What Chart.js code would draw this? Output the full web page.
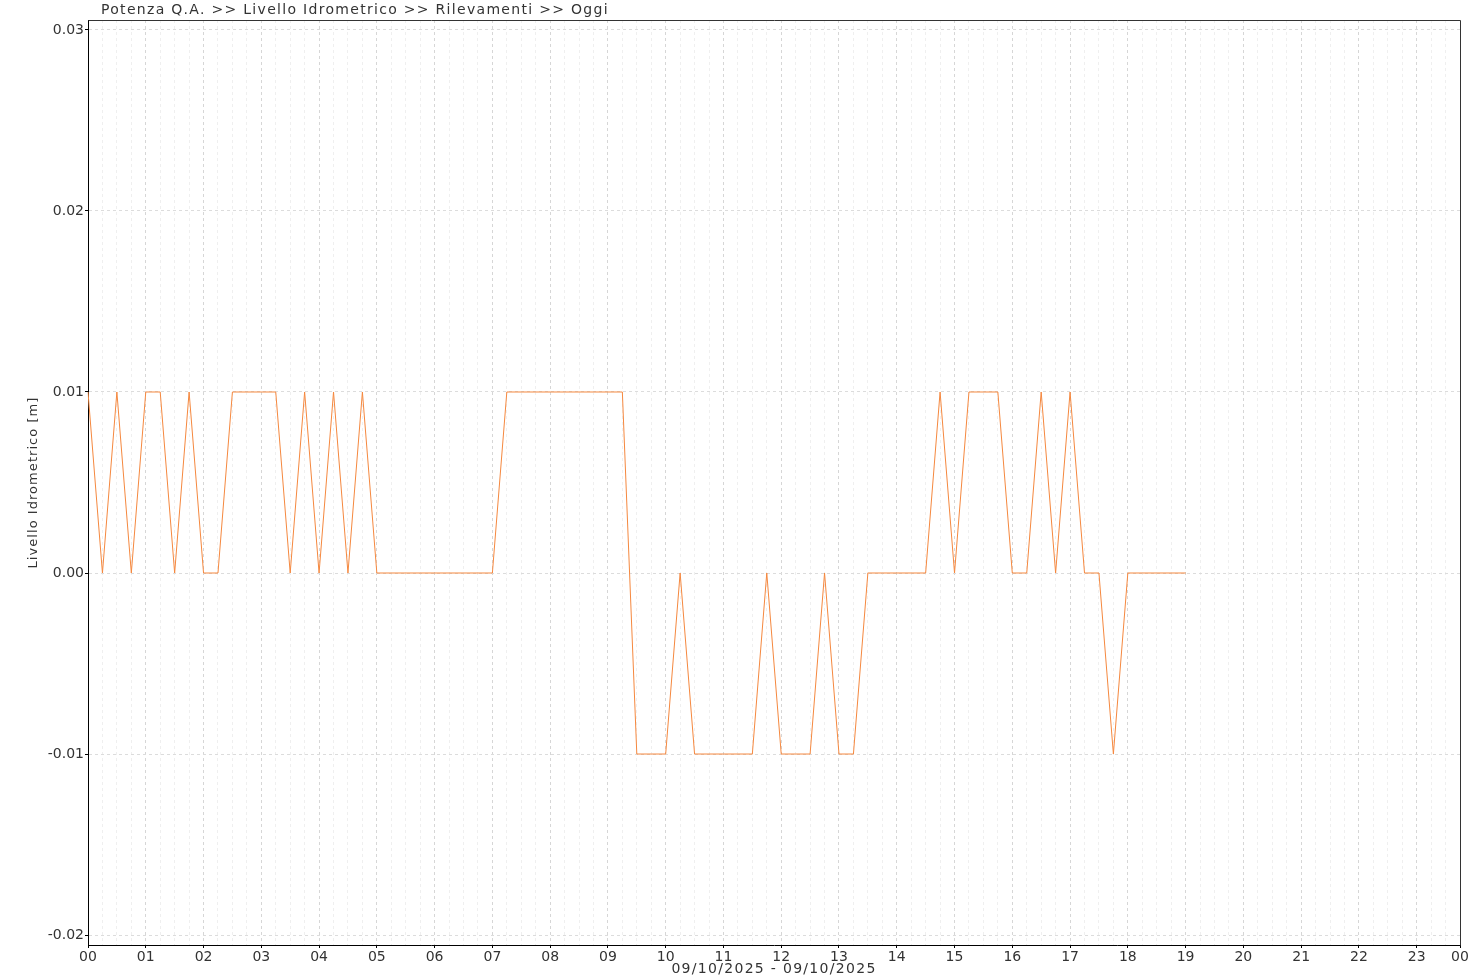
<!DOCTYPE html>
<html>
<head>
<meta charset="utf-8">
<title>Livello Idrometrico</title>
<script src="https://cdn.jsdelivr.net/npm/chart.js@4.4.1/dist/chart.umd.min.js"></script>
<style>
  html, body { margin: 0; padding: 0; background: #fff; }
  #wrap { width: 1480px; height: 980px; }
</style>
</head>
<body>
<div id="wrap"><canvas id="chartLivello"></canvas></div>
<script>
const TITOLO = 'Potenza Q.A. >> Livello Idrometrico >> Rilevamenti >> Oggi';
const TITOLO_Y = 'Livello Idrometrico [m]';
const TITOLO_X = '09/10/2025 - 09/10/2025';

// ore del giorno (etichette dell'asse x), l'ultima è la mezzanotte finale
const oreLabels = ['00','01','02','03','04','05','06','07','08','09','10','11',
                   '12','13','14','15','16','17','18','19','20','21','22','23','00'];

// rilevamenti ogni 15 minuti, 00:00 -> 19:00
const orari = [
  '00:00','00:15','00:30','00:45','01:00','01:15','01:30','01:45',
  '02:00','02:15','02:30','02:45','03:00','03:15','03:30','03:45',
  '04:00','04:15','04:30','04:45','05:00','05:15','05:30','05:45',
  '06:00','06:15','06:30','06:45','07:00','07:15','07:30','07:45',
  '08:00','08:15','08:30','08:45','09:00','09:15','09:30','09:45',
  '10:00','10:15','10:30','10:45','11:00','11:15','11:30','11:45',
  '12:00','12:15','12:30','12:45','13:00','13:15','13:30','13:45',
  '14:00','14:15','14:30','14:45','15:00','15:15','15:30','15:45',
  '16:00','16:15','16:30','16:45','17:00','17:15','17:30','17:45',
  '18:00','18:15','18:30','18:45','19:00'
];
const livelli = [
  0.01, 0,    0.01, 0,    0.01, 0.01, 0,    0.01,
  0,    0,    0.01, 0.01, 0.01, 0.01, 0,    0.01,
  0,    0.01, 0,    0.01, 0,    0,    0,    0,
  0,    0,    0,    0,    0,    0.01, 0.01, 0.01,
  0.01, 0.01, 0.01, 0.01, 0.01, 0.01, -0.01, -0.01,
  -0.01, 0,   -0.01, -0.01, -0.01, -0.01, -0.01, 0,
  -0.01, -0.01, -0.01, 0,  -0.01, -0.01, 0,    0,
  0,    0,    0,    0.01, 0,    0.01, 0.01, 0.01,
  0,    0,    0.01, 0,    0.01, 0,    0,    -0.01,
  0,    0,    0,    0,    0
];

const yTicks = [-0.02, -0.01, 0, 0.01, 0.02, 0.03];
const Y_MIN = -0.02055;
const Y_MAX = 0.03055;

// asse x: un quarto d'ora per categoria, 00:00 -> 23:45
const quarti = [];
for (let h = 0; h < 24; h++) {
  for (let m = 0; m < 60; m += 15) {
    quarti.push(String(h).padStart(2, '0') + ':' + String(m).padStart(2, '0'));
  }
}

const FONT = "'DejaVu Sans'";
const TESTO = '#333333';

// testo spaziato, centrato a mano (il font originale è più largo)
function scriviSpaziato(ctx, testo, cx, cy, spazio) {
  ctx.letterSpacing = spazio;
  const w = ctx.measureText(testo).width;
  ctx.textAlign = 'left';
  ctx.fillText(testo, cx - w / 2, cy);
}

const titoliPlugin = {
  id: 'titoli',
  afterDraw(chart) {
    const a = chart.chartArea;
    const ctx = chart.ctx;
    ctx.save();
    ctx.fillStyle = TESTO;
    ctx.textBaseline = 'middle';

    ctx.font = '14px ' + FONT;
    ctx.letterSpacing = '1.3px';
    ctx.textAlign = 'left';
    ctx.fillText(TITOLO, 101, 10);

    scriviSpaziato(ctx, TITOLO_X, (a.left + a.right) / 2, 969, '1.3px');

    ctx.translate(34, (a.top + a.bottom) / 2);
    ctx.rotate(-Math.PI / 2);
    ctx.font = '13px ' + FONT;
    scriviSpaziato(ctx, TITOLO_Y, 0, 0, '1.05px');
    ctx.restore();
  }
};

const cornicePlugin = {
  id: 'cornice',
  afterDraw(chart) {
    const a = chart.chartArea;
    const ctx = chart.ctx;
    ctx.save();
    ctx.strokeStyle = '#333333';
    ctx.lineWidth = 1;
    ctx.beginPath();
    ctx.moveTo(Math.round(a.left) + 0.5, Math.round(a.top) + 0.5);
    ctx.lineTo(Math.round(a.right) + 0.5, Math.round(a.top) + 0.5);
    ctx.lineTo(Math.round(a.right) + 0.5, Math.round(a.bottom) + 0.5);
    ctx.stroke();
    ctx.restore();
  }
};

Chart.defaults.font.family = FONT;
Chart.defaults.color = TESTO;

const ctx = document.getElementById('chartLivello').getContext('2d');
const chartLivello = new Chart(ctx, {
  type: 'line',
  data: {
    labels: quarti,
    datasets: [{
      label: TITOLO_Y,
      data: orari.map((t, i) => ({ x: t, y: livelli[i] })),
      borderColor: '#f5883f',
      borderWidth: 1,
      pointRadius: 0,
      tension: 0,
      fill: false
    }]
  },
  options: {
    responsive: true,
    maintainAspectRatio: false,
    animation: false,
    layout: { padding: { top: 20, right: 20, left: 0, bottom: 0 } },
    scales: {
      x: {
        type: 'category',
        offset: false,
        afterFit: scale => { scale.height = 35; },
        grid: {
          color: c => (c.index % 4 === 0 ? '#d6d6d6' : '#efefef'),
          tickColor: c => (c.index % 4 === 0 || c.index === 95 ? '#000' : 'rgba(0,0,0,0)'),
          tickLength: 3
        },
        border: { color: '#000', width: 1, dash: [3, 3] },
        ticks: {
          autoSkip: false,
          maxRotation: 0,
          padding: 1,
          color: TESTO,
          font: { size: 14 },
          callback: (value, index) => {
            if (index === 95) return oreLabels[24];
            return index % 4 === 0 ? oreLabels[index / 4] : '';
          }
        },
        title: { display: false }
      },
      y: {
        min: Y_MIN,
        max: Y_MAX,
        afterFit: scale => { scale.width = 88; },
        afterBuildTicks: scale => { scale.ticks = yTicks.map(v => ({ value: v })); },
        grid: {
          color: '#dcdcdc',
          tickColor: '#000',
          tickLength: 3
        },
        border: { color: '#000', width: 1, dash: [3, 3] },
        ticks: {
          padding: 1,
          color: TESTO,
          font: { size: 14 },
          callback: value => value.toFixed(2)
        },
        title: { display: false }
      }
    },
    plugins: {
      legend: { display: false },
      title: { display: false },
      tooltip: { enabled: false }
    }
  },
  plugins: [titoliPlugin, cornicePlugin]
});
</script>
</body>
</html>
